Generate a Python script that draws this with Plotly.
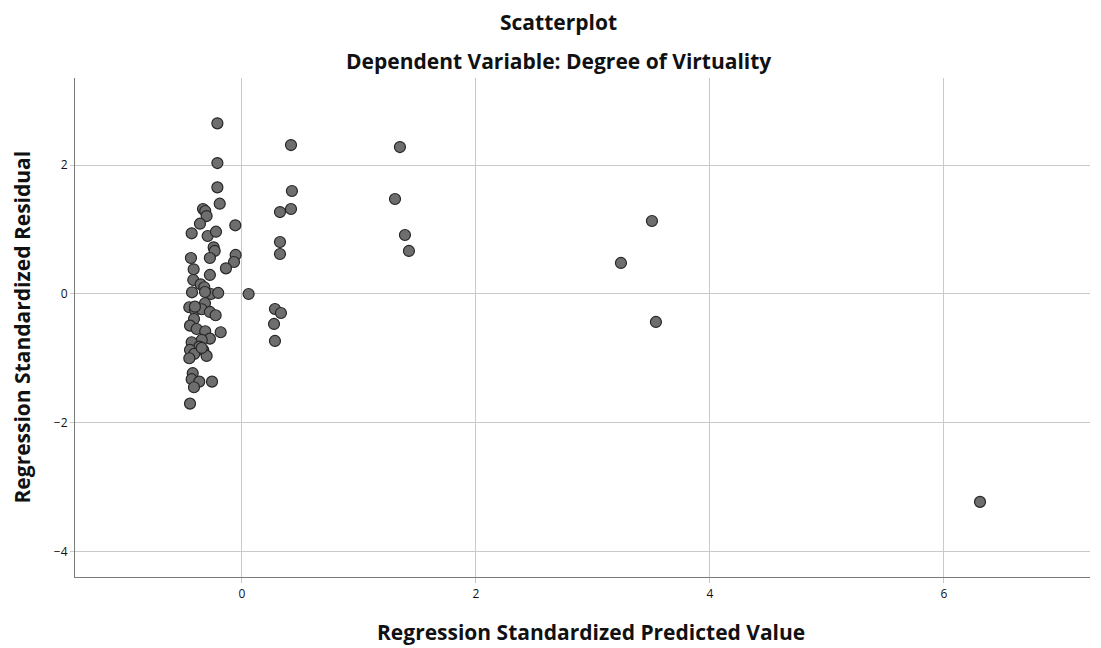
import plotly.graph_objects as go

# Regression standardized predicted values (x) and residuals (y)
predicted = [
    -0.21, -0.21, -0.21, -0.19, -0.333, -0.314, -0.302, -0.359, -0.057, -0.430,
    -0.293, -0.222, -0.242, -0.233, -0.054, -0.436, -0.274, -0.068, -0.137, -0.413,
    -0.274, -0.416, -0.353, -0.322, -0.427, -0.265, -0.203, 0.057, -0.450, -0.402,
    -0.316, -0.344, -0.274, -0.225, -0.410, -0.444, -0.387, -0.314, -0.182, -0.274,
    -0.344, -0.430, -0.365, -0.444, -0.331, -0.408, -0.302, -0.450, -0.421, -0.430,
    -0.365, -0.256, -0.410, -0.444, -0.316, -0.402, -0.344,
    0.419, 1.350, 0.427, 1.308, 0.419, 0.325, 1.393, 1.427, 0.325, 0.325,
    0.282, 0.333, 0.274, 0.282, 3.239, 3.504, 3.538, 6.308,
]
residual = [
    2.647, 2.031, 1.654, 1.400, 1.318, 1.287, 1.209, 1.090, 1.065, 0.941,
    0.899, 0.966, 0.724, 0.667, 0.605, 0.558, 0.558, 0.496, 0.398, 0.383,
    0.295, 0.217, 0.150, 0.104, 0.026, 0.000, 0.016, 0.000, -0.206, -0.248,
    -0.144, -0.237, -0.279, -0.330, -0.388, -0.491, -0.543, -0.578, -0.594, -0.693,
    -0.713, -0.749, -0.817, -0.868, -0.868, -0.930, -0.961, -0.997, -1.229, -1.322,
    -1.360, -1.360, -1.447, -1.701, 0.031, -0.197, -0.837,
    2.310, 2.279, 1.597, 1.473, 1.318, 1.271, 0.915, 0.667, 0.806, 0.620,
    -0.233, -0.295, -0.465, -0.729, 0.481, 1.132, -0.434, -3.225,
]

x_ticks = [0, 2, 4, 6]
y_ticks = [-4, -2, 0, 2]

title_main = "Scatterplot"
title_sub = "Dependent Variable: Degree of Virtuality"
x_title = "Regression Standardized Predicted Value"
y_title = "Regression Standardized Residual"

FONT = "Open Sans"
TITLE_COLOR = "#111111"
TITLE_SIZE = 21

fig = go.Figure()
fig.add_trace(go.Scatter(
    x=predicted, y=residual, mode="markers",
    marker=dict(size=11, color="#6e6e6e",
                line=dict(color="#262626", width=1.2)),
    showlegend=False, hoverinfo="x+y",
))

# the page body adds an 8px offset, so margins compensate for it
fig.update_layout(
    width=1101, height=648,
    margin=dict(l=67, r=19, t=70, b=79, autoexpand=False),
    paper_bgcolor="white", plot_bgcolor="white",
    font=dict(family=FONT, color="#222222"),
    annotations=[
        dict(text="<b>" + title_main + "</b>", xref="paper", yref="paper",
             x=0.476, y=1, yshift=56, showarrow=False, xanchor="center",
             yanchor="middle", font=dict(size=TITLE_SIZE, family=FONT, color=TITLE_COLOR)),
        dict(text="<b>" + title_sub + "</b>", xref="paper", yref="paper",
             x=0.476, y=1, yshift=17, showarrow=False, xanchor="center",
             yanchor="middle", font=dict(size=TITLE_SIZE, family=FONT, color=TITLE_COLOR)),
        dict(text="<b>" + x_title + "</b>", xref="paper", yref="paper",
             x=0.508, y=0, yshift=-55, showarrow=False, xanchor="center",
             yanchor="middle", font=dict(size=TITLE_SIZE, family=FONT, color=TITLE_COLOR)),
        dict(text="<b>" + y_title + "</b>", xref="paper", yref="paper",
             x=0, y=0.5, xshift=-54, textangle=-90, showarrow=False,
             xanchor="center", yanchor="middle",
             font=dict(size=TITLE_SIZE, family=FONT, color=TITLE_COLOR)),
    ],
)

fig.update_xaxes(
    range=[-1.427, 7.248], tickvals=x_ticks, ticktext=[str(v) for v in x_ticks],
    showgrid=True, gridcolor="#c9c9c9", gridwidth=1.2, automargin=False,
    zeroline=False, showline=True, linecolor="#7a7a7a", linewidth=1.2,
    ticks="outside", ticklen=5, tickcolor="#c9c9c9",
    tickfont=dict(size=12, family=FONT, color="#111111"),
)
fig.update_yaxes(
    range=[-4.39, 3.35], tickvals=y_ticks,
    ticktext=["\u22124", "\u22122", "0", "2"],
    showgrid=True, gridcolor="#c9c9c9", gridwidth=1.2, automargin=False,
    zeroline=False, showline=True, linecolor="#7a7a7a", linewidth=1.2,
    ticks="outside", ticklen=4, tickcolor="#c9c9c9",
    tickfont=dict(size=12, family=FONT, color="#111111"),
)

fig.write_html("out.html")
